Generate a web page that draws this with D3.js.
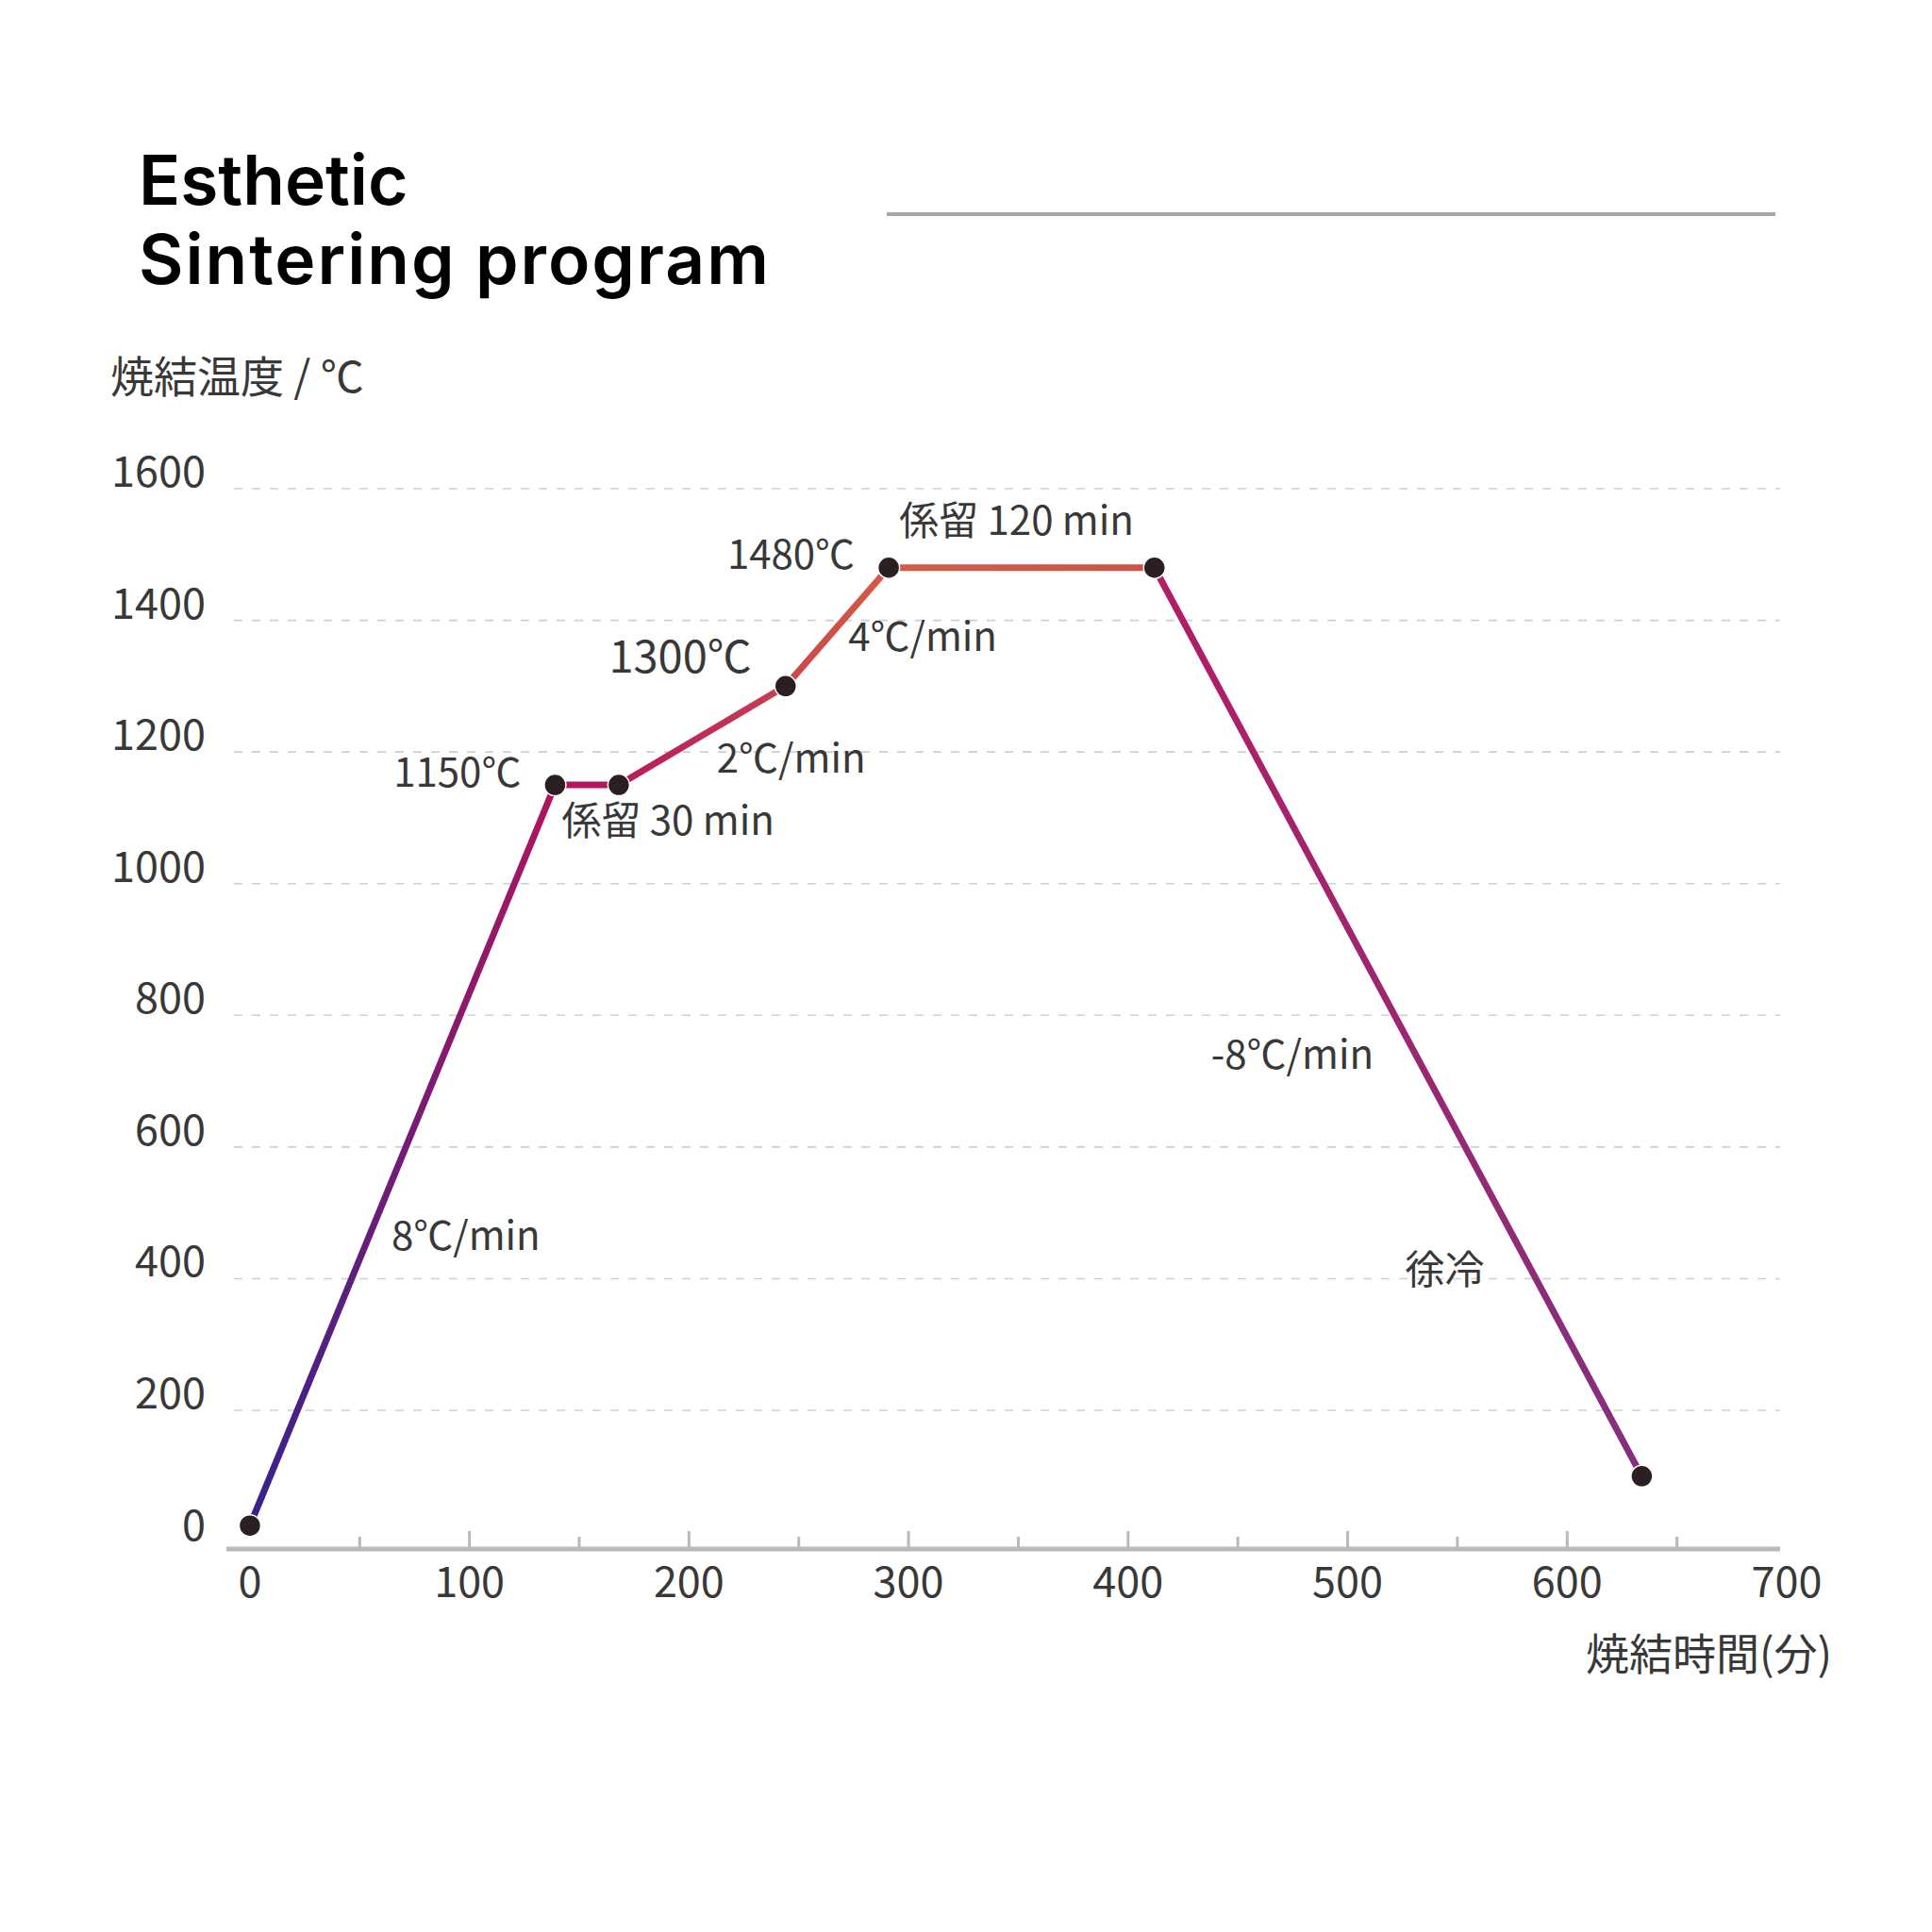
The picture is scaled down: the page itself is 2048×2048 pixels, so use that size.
<!DOCTYPE html>
<html>
<head>
<meta charset="utf-8">
<script src="https://cdn.jsdelivr.net/npm/d3@7"></script>
<style>
  html, body { margin: 0; padding: 0; background: #fff; }
  svg { display: block; }
</style>
</head>
<body>
<svg id="chart" width="2048" height="2048"></svg>
<script>
// sintering schedule
var times = [0, 139, 168, 244, 291, 412, 634];
var temps = [25, 1150, 1150, 1300, 1480, 1480, 100];

var yTicks = [0, 200, 400, 600, 800, 1000, 1200, 1400, 1600];
var xTicks = [0, 100, 200, 300, 400, 500, 600, 700];
var xMinor = [50, 150, 250, 350, 450, 550, 650];

// colour at the start / end of each segment
var segStart = ["#36238a", "#b0165f", "#b8195e", "#cb474c", "#d35c48", "#b31d64"];
var segEnd   = ["#b0145f", "#b4185f", "#c8404f", "#d65a46", "#cc5447", "#83307f"];

var noteText  = ["1150℃", "係留 30 min", "1300℃", "2℃/min", "1480℃", "4℃/min", "係留 120 min", "8℃/min", "-8℃/min", "徐冷"];
var notePoint = [1, 1, 3, 3, 4, 4, 4, 0, 5, 6];

var titleLines = ["Esthetic", "Sintering program"];
var yLabel = "焼結温度 / ℃";
var xLabel = "焼結時間(分)";

var svg = d3.select("#chart"),
  font = "'Noto Sans CJK JP', 'Noto Sans', Roboto, sans-serif",
  textCol = "#383838";

var x = d3.scaleLinear().domain([0, 700]).range([264.9, 1894]);
var y = d3.scaleLinear().domain([0, 1600]).range([1634.6, 518]);

var pts = times.map(function(t, i) { return {t: t, v: temps[i]}; });

// title
svg.append("g").selectAll("text")
  .data(titleLines)
  .enter().append("text")
  .attr("x", 147)
  .attr("y", function(d, i) { return 217 + i * 84; })
  .attr("font-family", "Inter, 'Noto Sans', sans-serif")
  .attr("font-weight", 600)
  .attr("font-size", 73)
  .attr("letter-spacing", function(d, i) { return i ? 2 : 0; })
  .attr("fill", "#000")
  .text(function(d) { return d; });

svg.append("line")
  .attr("x1", 940).attr("x2", 1882)
  .attr("y1", 227).attr("y2", 227)
  .attr("stroke", "#a6a6a6")
  .attr("stroke-width", 4);

// y axis label
svg.append("text")
  .attr("x", 117).attr("y", 416)
  .attr("font-family", font)
  .attr("font-size", 46)
  .attr("fill", textCol)
  .text(yLabel);

// grid
svg.append("g").selectAll("line")
  .data(yTicks.filter(function(d) { return d > 0; }))
  .enter().append("line")
  .attr("x1", 248).attr("x2", 1887)
  .attr("y1", function(d) { return y(d); })
  .attr("y2", function(d) { return y(d); })
  .attr("stroke", "#cfcfcf")
  .attr("stroke-width", 1.6)
  .attr("stroke-dasharray", "9 10");

svg.append("g").selectAll("text")
  .data(yTicks)
  .enter().append("text")
  .attr("x", 218)
  .attr("y", function(d) { return y(d) - 2; })
  .attr("text-anchor", "end")
  .attr("font-family", font)
  .attr("font-size", 45)
  .attr("fill", textCol)
  .text(function(d) { return d; });

// x axis
var axisY = 1642;
svg.append("line")
  .attr("x1", 240).attr("x2", 1887)
  .attr("y1", axisY).attr("y2", axisY)
  .attr("stroke", "#b9b9b9")
  .attr("stroke-width", 5);

svg.append("g").selectAll("line")
  .data(xTicks.filter(function(d) { return d > 0 && d < 700; }))
  .enter().append("line")
  .attr("x1", function(d) { return x(d); })
  .attr("x2", function(d) { return x(d); })
  .attr("y1", axisY).attr("y2", axisY - 19)
  .attr("stroke", "#b9b9b9")
  .attr("stroke-width", 3);

svg.append("g").selectAll("line")
  .data(xMinor)
  .enter().append("line")
  .attr("x1", function(d) { return x(d); })
  .attr("x2", function(d) { return x(d); })
  .attr("y1", axisY).attr("y2", axisY - 13)
  .attr("stroke", "#b9b9b9")
  .attr("stroke-width", 3);

svg.append("g").selectAll("text")
  .data(xTicks)
  .enter().append("text")
  .attr("x", function(d) { return x(d); })
  .attr("y", 1693)
  .attr("text-anchor", "middle")
  .attr("font-family", font)
  .attr("font-size", 45)
  .attr("fill", textCol)
  .text(function(d) { return d; });

svg.append("text")
  .attr("x", 1942).attr("y", 1770)
  .attr("text-anchor", "end")
  .attr("font-family", font)
  .attr("font-size", 46)
  .attr("fill", textCol)
  .text(xLabel);

// line segments, each with its own gradient
var defs = svg.append("defs");
var segs = d3.range(pts.length - 1).map(function(i) {
  return {a: pts[i], b: pts[i + 1], c0: segStart[i], c1: segEnd[i], id: "seg" + i};
});

segs.forEach(function(s) {
  var g = defs.append("linearGradient")
    .attr("id", s.id)
    .attr("gradientUnits", "userSpaceOnUse")
    .attr("x1", x(s.a.t)).attr("y1", y(s.a.v))
    .attr("x2", x(s.b.t)).attr("y2", y(s.b.v));
  g.append("stop").attr("offset", 0).attr("stop-color", s.c0);
  g.append("stop").attr("offset", 1).attr("stop-color", s.c1);
});

svg.append("g").selectAll("line")
  .data(segs)
  .enter().append("line")
  .attr("x1", function(d) { return x(d.a.t); })
  .attr("y1", function(d) { return y(d.a.v); })
  .attr("x2", function(d) { return x(d.b.t); })
  .attr("y2", function(d) { return y(d.b.v); })
  .attr("stroke", function(d) { return "url(#" + d.id + ")"; })
  .attr("stroke-width", 7);

svg.append("g").selectAll("circle")
  .data(pts)
  .enter().append("circle")
  .attr("cx", function(d) { return x(d.t); })
  .attr("cy", function(d) { return y(d.v); })
  .attr("r", 11.5)
  .attr("fill", "#2b1f22")
  .attr("stroke", "#fff")
  .attr("stroke-width", 1.5);

// annotation offsets from their point
var noteDx = [-36, 7, -36, -73, -36, -43, 11, 150, 60, -251];
var noteDy = [2, 53, -14, 92, 1, 88, -35, -292, 531, -204];
var noteSize = [42, 42, 47, 42, 42, 42, 42, 42, 42, 42];
var noteEnd = [true, false, true, false, true, false, false, false, false, false];

svg.append("g").selectAll("text")
  .data(noteText)
  .enter().append("text")
  .attr("x", function(d, i) { return x(pts[notePoint[i]].t) + noteDx[i]; })
  .attr("y", function(d, i) { return y(pts[notePoint[i]].v) + noteDy[i]; })
  .attr("text-anchor", function(d, i) { return noteEnd[i] ? "end" : "start"; })
  .attr("font-family", font)
  .attr("font-size", function(d, i) { return noteSize[i]; })
  .attr("fill", textCol)
  .text(function(d) { return d; });
</script>
</body>
</html>
